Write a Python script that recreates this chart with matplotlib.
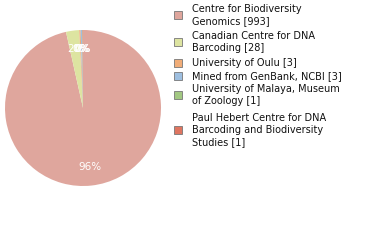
import matplotlib.pyplot as plt
from matplotlib.patches import Rectangle

labels = ["Centre for Biodiversity\nGenomics [993]",
          "Canadian Centre for DNA\nBarcoding [28]",
          "University of Oulu [3]",
          "Mined from GenBank, NCBI [3]",
          "University of Malaya, Museum\nof Zoology [1]",
          "Paul Hebert Centre for DNA\nBarcoding and Biodiversity\nStudies [1]"]
counts = [993, 28, 3, 3, 1, 1]
colors = ["#dfa69d", "#dde4a1", "#f1ad78", "#9ebfe0", "#a2c882", "#df7560"]

# legend row centres (pixels from top)
row_y = [15, 42, 63, 76, 95, 130]

fig = plt.figure(figsize=(3.8, 2.4), dpi=100)
ax = fig.add_axes([5/380, 1 - 186/240, 156/380, 156/240])

def fmt(p):
    return "%d%%" % int(p)

wedges, texts, autotexts = ax.pie(counts, colors=colors, startangle=90, counterclock=False,
                                  autopct=fmt, pctdistance=0.76,
                                  textprops=dict(color="white", fontsize=7.5))
ax.set_xlim(-1, 1)
ax.set_ylim(-1, 1)
ax.set_aspect("auto")

for lab, col, y in zip(labels, colors, row_y):
    fig.patches.append(Rectangle((174/380, 1 - (y + 4)/240), 8/380, 8/240,
                                 transform=fig.transFigure, facecolor=col,
                                 edgecolor="#777777", linewidth=0.6))
    fig.text(192/380, 1 - y/240, lab, fontsize=7, va="center", ha="left",
             color="#111111", linespacing=1.25)

plt.savefig("out.png", dpi=100)
